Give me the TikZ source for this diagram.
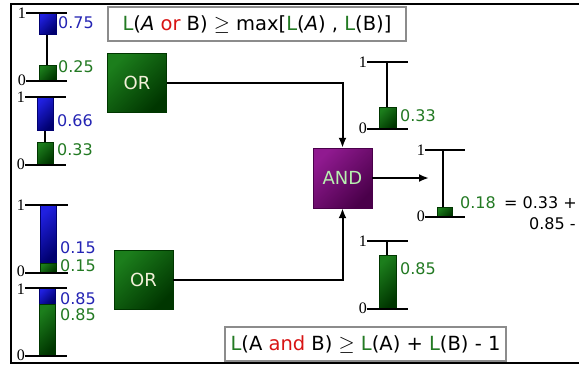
\documentclass[tikz,border=0pt]{standalone}
\usepackage{fontspec}
\setmainfont{DejaVu Sans}
\newfontfamily\serifnum{Liberation Serif}
\usetikzlibrary{arrows.meta}
\definecolor{lgreen}{HTML}{1C7E1C}
\definecolor{dgreen}{HTML}{003600}
\definecolor{lblue}{HTML}{2020E0}
\definecolor{dblue}{HTML}{000070}
\definecolor{lpurp}{HTML}{901A90}
\definecolor{dpurp}{HTML}{4A004A}
\definecolor{tgreen}{HTML}{237A23}
\definecolor{tblue}{HTML}{2424B4}
\definecolor{tred}{HTML}{D81414}
\definecolor{andtxt}{HTML}{B8F0B0}
\definecolor{ortxt}{HTML}{F2F0D8}
\tikzset{
  greenbar/.style={top color=lgreen, bottom color=dgreen, shading angle=45, draw=dgreen, line width=0.4pt},
  bluebar/.style={top color=lblue, bottom color=dblue, shading angle=45, draw=dblue, line width=0.4pt},
  tick/.style={line width=2.2pt, black},
  stem/.style={line width=2pt, black},
  ticklab/.style={font=\serifnum\fontsize{16}{16}\selectfont, inner sep=0pt, anchor=east},
  glab/.style={font=\fontsize{16}{16}\selectfont, text=tgreen, inner sep=0pt, anchor=west},
  blab/.style={font=\fontsize{16}{16}\selectfont, text=tblue, inner sep=0pt, anchor=west},
  orbox/.style={top color=lgreen, bottom color=dgreen, shading angle=45, draw=dgreen, minimum width=59pt, minimum height=59pt, inner sep=0pt, text=ortxt, font=\fontsize{18}{18}\selectfont},
  andbox/.style={top color=lpurp, bottom color=dpurp, shading angle=45, draw=dpurp, minimum width=59pt, minimum height=60pt, inner sep=0pt, text=andtxt, font=\fontsize{18}{18}\selectfont},
  fbox/.style={draw=black!45, line width=1.5pt, fill=white, inner sep=0pt, font=\fontsize{19.5}{19.5}\selectfont},
  conn/.style={line width=2pt, -{Latex[length=10pt,width=8pt]}},
}
\begin{document}
\begin{tikzpicture}[x=1pt,y=-1pt]
\useasboundingbox (0,0) rectangle (579,365);
\fill[white] (0,0) rectangle (579,365);
% frame
\draw[line width=1.2pt] (580,4) -- (11,4) -- (11,363) -- (580,363);

% gauge 1
\draw[stem] (47,13) -- (47,81);
\shade[bluebar] (39,13) rectangle (56,34);
\shade[greenbar] (39,65) rectangle (56,81);
\draw[tick] (26,13) -- (67,13);
\draw[tick] (26,81) -- (67,81);
\node[ticklab] (g1one) at (26,13) {1};
\node[ticklab] (g1zero) at (26,80) {0};
\node[blab] (g1b) at (58,23) {0.75};
\node[glab] (g1g) at (58,67) {0.25};

% gauge 2
\draw[stem] (45,97) -- (45,165);
\shade[bluebar] (37,97) rectangle (53,130);
\shade[greenbar] (37,142) rectangle (53,165);
\draw[tick] (25,97) -- (66,97);
\draw[tick] (25,165) -- (66,165);
\node[ticklab] (g2one) at (25,97) {1};
\node[ticklab] (g2zero) at (25,164) {0};
\node[blab] (g2b) at (57,121) {0.66};
\node[glab] (g2g) at (57,150) {0.33};

% gauge 3
\draw[stem] (48,205) -- (48,273);
\shade[bluebar] (40,205) rectangle (56,263);
\shade[greenbar] (40,263) rectangle (56,273);
\draw[tick] (25,205) -- (68,205);
\draw[tick] (25,273) -- (68,273);
\node[ticklab] (g3one) at (25,205) {1};
\node[ticklab] (g3zero) at (25,271) {0};
\node[blab] (g3b) at (60,248) {0.15};
\node[glab] (g3g) at (60,266) {0.15};

% gauge 4
\draw[stem] (47,288) -- (47,356);
\shade[bluebar] (39,288) rectangle (55,304);
\shade[greenbar] (39,304) rectangle (55,356);
\draw[tick] (25,288) -- (67,288);
\draw[tick] (25,356) -- (67,356);
\node[ticklab] (g4one) at (25,289) {1};
\node[ticklab] (g4zero) at (25,355) {0};
\node[blab] (g4b) at (60,299) {0.85};
\node[glab] (g4g) at (60,315) {0.85};

% gauge A (0.33)
\draw[stem] (387,62) -- (387,129);
\shade[greenbar] (379,107) rectangle (396,129);
\draw[tick] (367,62) -- (408,62);
\draw[tick] (367,129) -- (408,129);
\node[ticklab] (gaone) at (367,62) {1};
\node[ticklab] (gazero) at (367,128) {0};
\node[glab] (gag) at (400,116) {0.33};

% gauge B (0.85)
\draw[stem] (387,241) -- (387,309);
\shade[greenbar] (379,255) rectangle (396,309);
\draw[tick] (367,241) -- (408,241);
\draw[tick] (367,309) -- (408,309);
\node[ticklab] (gbone) at (367,241) {1};
\node[ticklab] (gbzero) at (367,308) {0};
\node[glab] (gbg) at (400,269) {0.85};

% output gauge
\draw[stem] (443,150) -- (443,217);
\shade[greenbar] (437,207) rectangle (452,217);
\draw[tick] (425,150) -- (465,150);
\draw[tick] (425,217) -- (465,217);
\node[ticklab] (goone) at (425,150) {1};
\node[ticklab] (gozero) at (425,216) {0};
\node[glab] (gog) at (460,203) {0.18};
\node[font=\fontsize{16}{16}\selectfont, inner sep=0pt, anchor=west] (eq1) at (504,203) {= 0.33 +};
\node[font=\fontsize{16}{16}\selectfont, inner sep=0pt, anchor=west] (eq2) at (529,224) {0.85 -};

% gates
\node[orbox] (or1) at (137,83) {OR};
\node[orbox] (or2) at (143.5,279.5) {OR};
\node[andbox] (and) at (342.5,178) {AND};
\coordinate (outarr) at (429,178);

\draw[conn] (or1.east) -| (and.north);
\draw[conn] (or2.east) -| (and.south);
\draw[conn] (and.east) -- (outarr);

% formula boxes
\node[fbox, minimum width=298pt, minimum height=34pt] (f1) at (257,24)
  {\textcolor{tgreen}{L}(\textit{A} \textcolor{tred}{or} B) $\geq$ max[\textcolor{tgreen}{L}(\textit{A}) , \textcolor{tgreen}{L}(B)]};
\node[fbox, minimum width=281pt, minimum height=34pt] (f2) at (365.5,344)
  {\textcolor{tgreen}{L}(A \textcolor{tred}{and} B) $\geq$ \textcolor{tgreen}{L}(A) + \textcolor{tgreen}{L}(B) - 1};
\end{tikzpicture}
\end{document}
